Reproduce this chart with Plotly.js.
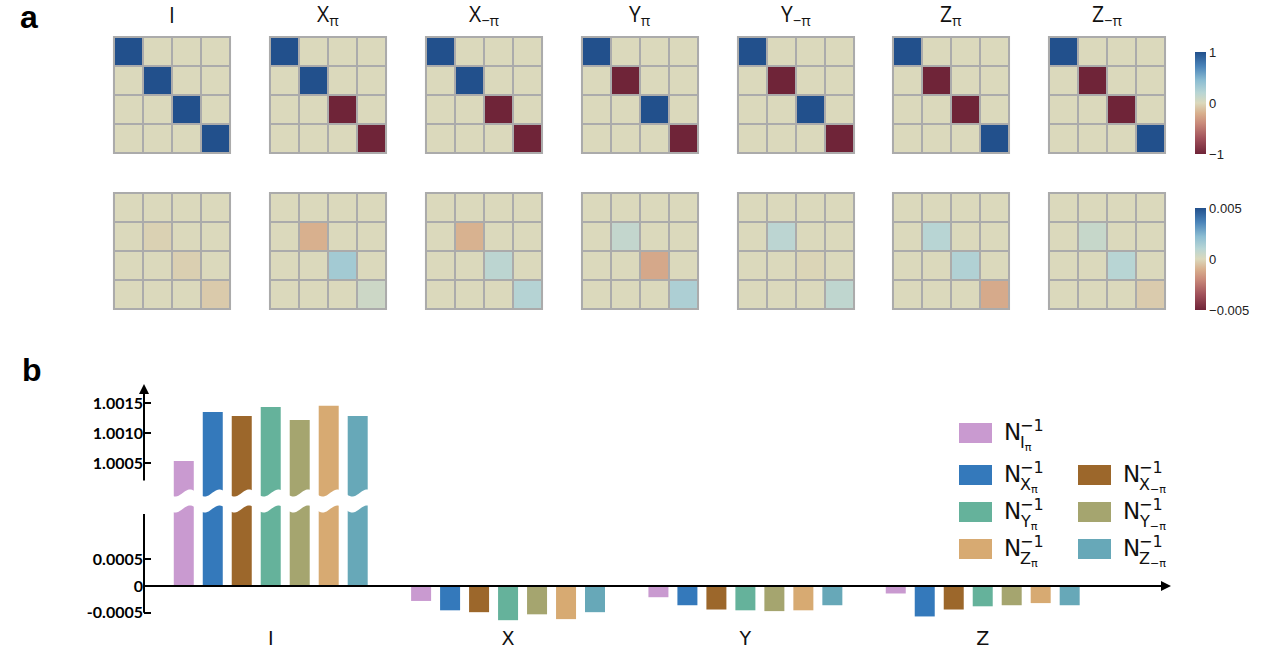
<!DOCTYPE html>
<html><head><meta charset="utf-8">
<script src="https://cdn.plot.ly/plotly-3.0.1.min.js"></script>
<style>html,body{margin:0;padding:0;background:#fff}#chart{width:1270px;height:655px}</style>
</head><body><div id="chart"></div>
<script>
// ---------------- data ----------------
const gateLabels = ['I','X<sub>π</sub>','X<sub>−π</sub>','Y<sub>π</sub>','Y<sub>−π</sub>','Z<sub>π</sub>','Z<sub>−π</sub>'];
// diagonals of the ideal 4x4 matrices (off-diagonal entries are 0)
const idealI  = [1, 1, 1, 1];
const idealXp = [1, 1,-1,-1];
const idealXm = [1, 1,-1,-1];
const idealYp = [1,-1, 1,-1];
const idealYm = [1,-1, 1,-1];
const idealZp = [1,-1,-1, 1];
const idealZm = [1,-1,-1, 1];
// diagonals of the deviation matrices (off-diagonal entries are 0)
const devI  = [0, -0.0002,  -0.00025, -0.00036];
const devXp = [0, -0.0010,   0.00157,  0.00042];
const devXm = [0, -0.00095,  0.00089,  0.00108];
const devYp = [0,  0.0007,  -0.0012,   0.0013];
const devYm = [0,  0.0009,  -0.0001,   0.0008];
const devZp = [0,  0.0010,   0.0012,  -0.00115];
const devZm = [0,  0.0006,   0.0010,  -0.00033];

// bar chart (b)
const groups = ['I','X','Y','Z'];
const N_Ip = [1.00054,  -0.00028, -0.00021,  -0.00014];
const N_Xp = [1.001355, -0.000455,-0.00036,  -0.00057];
const N_Xm = [1.00129,  -0.00049, -0.00044,  -0.00044];
const N_Yp = [1.00144,  -0.00064, -0.000455, -0.00038];
const N_Ym = [1.00122,  -0.00053, -0.00047,  -0.00036];
const N_Zp = [1.00146,  -0.00062, -0.000455, -0.00032];
const N_Zm = [1.00129,  -0.00049, -0.00036,  -0.00036];
const seriesSubs = ['I<sub>π</sub>','X<sub>π</sub>','X<sub>−π</sub>','Y<sub>π</sub>','Y<sub>−π</sub>','Z<sub>π</sub>','Z<sub>−π</sub>'];
const barColors = ['#c99ad0','#3479bb','#9c672b','#65b29b','#a5a56f','#d7aa72','#67a8b8'];

// ---------------- helpers ----------------
const W = 1270, H = 655;
const px = x => x / W;
const py = y => 1 - y / H;
const diagMatrix = d => d.map((v, i) => d.map((_, j) => (i === j ? v : 0)));
const ax = k => (k === 1 ? '' : String(k));

const colorscale = [
  [0.00,'#6f2438'],[0.15,'#a0505a'],[0.30,'#c98a7a'],[0.40,'#d8b08e'],
  [0.50,'#dbd9bc'],[0.60,'#b8d5d4'],[0.72,'#8cbdd2'],[0.86,'#4a84b9'],[1.00,'#22508c']
];

const ideal = [idealI, idealXp, idealXm, idealYp, idealYm, idealZp, idealZm];
const dev   = [devI, devXp, devXm, devYp, devYm, devZp, devZm];
const series = [N_Ip, N_Xp, N_Xm, N_Yp, N_Ym, N_Zp, N_Zm];

const panelLeft = [114, 270, 426, 582, 738, 893, 1049];
const panelW = 116;
const rowTop = [37, 193];

const traces = [];
const layout = {
  width: W, height: H,
  margin: {l:0, r:0, t:0, b:0},
  paper_bgcolor: '#fff', plot_bgcolor: '#fff',
  showlegend: false,
  font: {family: 'Open Sans', color: '#111'},
  barmode: 'group', bargap: 0.145, bargroupgap: 0.31,
  shapes: [], annotations: [],
  coloraxis: {
    colorscale, cmin: -1, cmax: 1,
    colorbar: {x: px(1195), xanchor: 'left', y: py(52), yanchor: 'top',
      len: 102 / H, lenmode: 'fraction', thickness: 11, thicknessmode: 'pixels',
      outlinewidth: 0, xpad: 0, ypad: 0, ticks: '',
      tickvals: [-1, 0, 1], ticktext: ['−1', '0', '1'],
      tickfont: {family: 'Liberation Sans', size: 13, color: '#222'}}
  },
  coloraxis2: {
    colorscale, cmin: -0.005, cmax: 0.005,
    colorbar: {x: px(1195), xanchor: 'left', y: py(208), yanchor: 'top',
      len: 102 / H, lenmode: 'fraction', thickness: 11, thicknessmode: 'pixels',
      outlinewidth: 0, xpad: 0, ypad: 0, ticks: '',
      tickvals: [-0.005, 0, 0.005], ticktext: ['−0.005', '0', '0.005'],
      tickfont: {family: 'Liberation Sans', size: 13, color: '#222'}}
  }
};

// heatmaps
let k = 1;
[ideal, dev].forEach((set, r) => {
  set.forEach((d, c) => {
    traces.push({
      type: 'heatmap', z: diagMatrix(d),
      xaxis: 'x' + ax(k), yaxis: 'y' + ax(k),
      coloraxis: r === 0 ? 'coloraxis' : 'coloraxis2',
      xgap: 2, ygap: 2, hoverinfo: 'skip'
    });
    layout['xaxis' + ax(k)] = {domain: [px(panelLeft[c]), px(panelLeft[c] + panelW)],
      range: [-0.5, 3.5], visible: false, fixedrange: true, anchor: 'y' + ax(k)};
    layout['yaxis' + ax(k)] = {domain: [py(rowTop[r] + panelW), py(rowTop[r])],
      range: [3.5, -0.5], visible: false, fixedrange: true, anchor: 'x' + ax(k)};
    layout.shapes.push({type: 'rect', xref: 'x' + ax(k) + ' domain', yref: 'y' + ax(k) + ' domain',
      x0: -0.009, x1: 1.009, y0: -0.009, y1: 1.009, fillcolor: '#ababab',
      line: {width: 0}, layer: 'below'});
    k++;
  });
});

// panel titles
gateLabels.forEach((t, c) => {
  layout.annotations.push({text: t, xref: 'paper', yref: 'paper',
    x: px(panelLeft[c] + panelW / 2), y: py(15), xanchor: 'center', yanchor: 'middle',
    showarrow: false, font: {family: 'Open Sans', size: 21, color: '#111'}});
});

// bar chart: upper (y15) and lower (y16) parts of a broken axis, sharing x15
series.forEach((vals, i) => {
  ['y15', 'y16'].forEach(ya => {
    traces.push({type: 'bar', x: groups, y: vals, xaxis: 'x15', yaxis: ya,
      marker: {color: barColors[i], line: {width: 0}}, hoverinfo: 'skip'});
  });
});
const tickFontB = {family: 'Lato', size: 16, weight: 'bold', color: '#000'};
layout.xaxis15 = {domain: [px(144), px(1160)], range: [-0.534, 3.747], anchor: 'y16',
  showline: false, showgrid: false, zeroline: false, ticks: '',
  tickfont: {family: 'DejaVu Sans', size: 19, color: '#111'}, fixedrange: true};
layout.yaxis15 = {domain: [py(500), py(385)], range: [0.999888, 1.001805], anchor: 'x15',
  showline: false, showgrid: false, zeroline: false,
  tickvals: [1.0005, 1.001, 1.0015], ticktext: ['1.0005', '1.0010', '1.0015'],
  ticks: 'inside', ticklen: 7, tickwidth: 2, tickcolor: '#000', tickfont: tickFontB, fixedrange: true};
layout.yaxis16 = {domain: [py(625), py(500)], range: [-0.00073, 0.00161], anchor: 'x15',
  showline: false, showgrid: false, zeroline: false,
  tickvals: [-0.0005, 0, 0.0005], ticktext: ['-0.0005', '0', '0.0005'],
  ticks: 'inside', ticklen: 7, tickwidth: 2, tickcolor: '#000', tickfont: tickFontB, fixedrange: true};

// axis lines of the broken axis
layout.shapes.push({type: 'line', xref: 'paper', yref: 'y16', x0: px(144), x1: px(144),
  y0: -0.0005, y1: 0.00135, line: {color: '#000', width: 2}});
layout.annotations.push({text: '', xref: 'paper', yref: 'paper', x: px(144), y: py(384),
  ax: 0, ay: 98, showarrow: true, arrowhead: 2, arrowsize: 1, arrowwidth: 2, arrowcolor: '#000'});
layout.annotations.push({text: '', xref: 'paper', yref: 'y16', x: px(1171), y: 0,
  ax: -(1171 - 143), ay: 0, showarrow: true, arrowhead: 2, arrowsize: 1, arrowwidth: 2, arrowcolor: '#000'});

// wavy break band over the bars
(function () {
  const top = [], bot = [];
  for (let x = 168; x <= 380; x += 1) {
    const y = 493 - 3.5 * Math.cos(2 * Math.PI * (x - 190) / 29.5);
    top.push(px(x) + ',' + py(y));
    bot.push(px(x) + ',' + py(y + 16));
  }
  const path = 'M ' + top.join(' L ') + ' L ' + bot.reverse().join(' L ') + ' Z';
  layout.shapes.push({type: 'path', xref: 'paper', yref: 'paper', path,
    fillcolor: '#fff', line: {width: 0}, layer: 'above'});
})();

// legend (built from the series colors / names)
const legendCol = [0, 0, 1, 0, 1, 0, 1];
const legendRow = [0, 1, 1, 2, 2, 3, 3];
const rowCy = [433, 475, 512, 549];
const colSwatch = [959, 1078];
series.forEach((_, i) => {
  const cy = rowCy[legendRow[i]], sx = colSwatch[legendCol[i]];
  layout.shapes.push({type: 'rect', xref: 'paper', yref: 'paper',
    x0: px(sx), x1: px(sx + 33), y0: py(cy + 10), y1: py(cy - 10),
    fillcolor: barColors[i], line: {width: 0}});
  const tx = sx + 43;
  layout.annotations.push({text: 'N', xref: 'paper', yref: 'paper', x: px(tx), y: py(cy - 1),
    xanchor: 'left', yanchor: 'middle', showarrow: false,
    font: {family: 'DejaVu Sans', size: 23, color: '#111'}});
  layout.annotations.push({text: '−1', xref: 'paper', yref: 'paper', x: px(tx + 16), y: py(cy - 8),
    xanchor: 'left', yanchor: 'middle', showarrow: false,
    font: {family: 'DejaVu Sans', size: 16, color: '#111'}});
  layout.annotations.push({text: seriesSubs[i], xref: 'paper', yref: 'paper', x: px(tx + 16), y: py(cy + 10),
    xanchor: 'left', yanchor: 'middle', showarrow: false,
    font: {family: 'DejaVu Sans', size: 16, color: '#111'}});
});

// panel letters
layout.annotations.push({text: '<b>a</b>', xref: 'paper', yref: 'paper', x: px(18), y: py(17),
  xanchor: 'left', yanchor: 'middle', showarrow: false, font: {family: 'Liberation Sans', size: 32, color: '#000'}});
layout.annotations.push({text: '<b>b</b>', xref: 'paper', yref: 'paper', x: px(20), y: py(370),
  xanchor: 'left', yanchor: 'middle', showarrow: false, font: {family: 'Liberation Sans', size: 32, color: '#000'}});

Plotly.newPlot('chart', traces, layout, {staticPlot: true, displayModeBar: false});
</script>
</body></html>
